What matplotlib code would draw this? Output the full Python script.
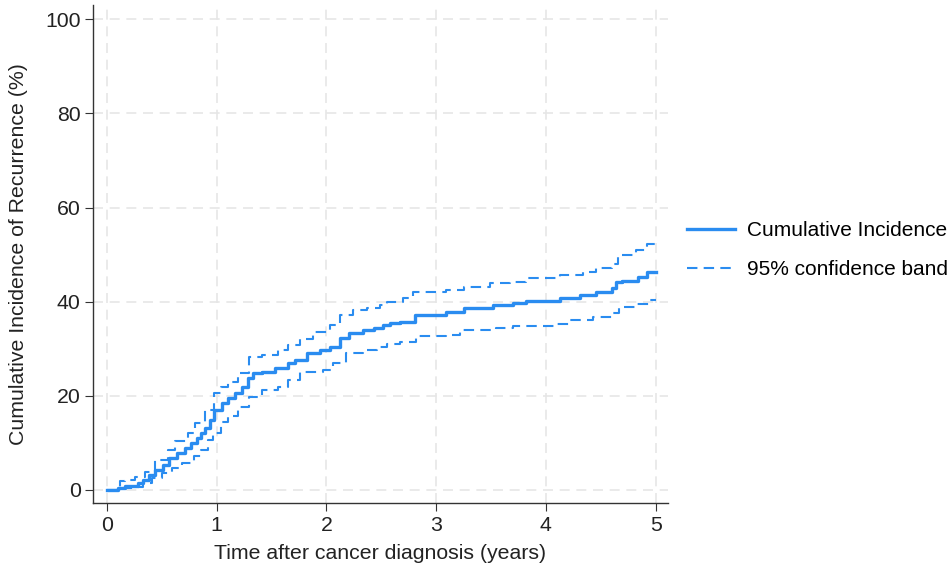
import matplotlib.pyplot as plt

plt.rcParams['font.family'] = ['Liberation Sans', 'DejaVu Sans']

# Cumulative incidence estimate (steps)
ci_t = [0, 0.10, 0.16, 0.28, 0.33, 0.38, 0.44, 0.51, 0.57, 0.635, 0.71, 0.77, 0.82, 0.86,
        0.89, 0.94, 0.98, 1.045, 1.105, 1.166, 1.227, 1.287, 1.33, 1.41, 1.53, 1.65, 1.71,
        1.82, 1.94, 2.03, 2.12, 2.21, 2.33, 2.43, 2.52, 2.58, 2.67, 2.81, 3.09, 3.25, 3.52,
        3.70, 3.82, 4.13, 4.31, 4.46, 4.60, 4.64, 4.69, 4.84, 4.92, 5.0]
ci_y = [0, 0.4, 0.85, 1.4, 2.1, 3.2, 4.2, 5.3, 6.7, 7.8, 8.9, 9.9, 11.0, 12.0,
        13.1, 14.9, 17.0, 18.4, 19.5, 20.5, 21.9, 23.7, 24.8, 25.1, 25.8, 26.9, 27.6,
        29.0, 29.7, 30.4, 32.2, 33.3, 34.0, 34.3, 35.0, 35.5, 35.7, 37.2, 37.9, 38.6, 39.3,
        39.8, 40.2, 40.7, 41.4, 42.1, 42.8, 44.2, 44.4, 45.3, 46.4, 46.4]

# 95% confidence band
up_t = [0, 0.12, 0.16, 0.255, 0.35, 0.44, 0.56, 0.62, 0.74, 0.80, 0.89, 0.98, 1.04, 1.105,
        1.195, 1.29, 1.41, 1.56, 1.65, 1.76, 1.88, 2.03, 2.12, 2.24, 2.37, 2.49, 2.55, 2.70,
        2.79, 3.09, 3.25, 3.49, 3.67, 3.82, 4.13, 4.34, 4.46, 4.60, 4.66, 4.82, 4.92, 5.0]
up_y = [0, 1.8, 2.1, 2.8, 3.9, 6.4, 8.5, 10.3, 12.0, 14.2, 17.0, 20.5, 21.9, 23.0,
        24.8, 28.3, 28.7, 29.7, 30.8, 32.0, 33.6, 35.0, 37.2, 38.2, 38.6, 39.3, 40.0, 40.7,
        42.1, 42.5, 43.2, 43.9, 44.2, 45.0, 45.6, 46.4, 47.1, 48.1, 50.0, 51.0, 52.2, 52.2]
lo_t = [0, 0.134, 0.285, 0.33, 0.41, 0.50, 0.59, 0.68, 0.79, 0.86, 0.92, 0.97, 1.04, 1.105,
        1.195, 1.29, 1.41, 1.56, 1.65, 1.76, 1.97, 2.06, 2.18, 2.33, 2.46, 2.55, 2.67, 2.82,
        3.09, 3.22, 3.55, 3.70, 4.10, 4.22, 4.43, 4.60, 4.67, 4.82, 4.95, 5.0]
lo_y = [0, 0.36, 0.57, 1.55, 2.5, 3.5, 4.6, 5.7, 7.1, 8.5, 10.6, 12.0, 14.5, 15.6,
        17.7, 19.8, 21.2, 21.9, 23.4, 25.1, 25.5, 26.9, 29.0, 29.7, 30.4, 31.1, 31.5, 32.7,
        32.9, 34.0, 34.3, 34.8, 35.2, 36.1, 36.7, 37.5, 38.8, 39.6, 40.3, 40.3]

color = '#2a8cf0'
fs = 15.3

fig = plt.figure(figsize=(9.53, 5.71), dpi=100)
ax = fig.add_axes([0.0976, 0.119, 0.603, 0.872])

ax.plot(ci_t, ci_y, drawstyle='steps-post', color=color, lw=2.4, label='Cumulative Incidence')
ax.plot(up_t, up_y, drawstyle='steps-post', color=color, lw=1.5, ls=(0, (5, 3)),
        label='95% confidence band')
ax.plot(lo_t, lo_y, drawstyle='steps-post', color=color, lw=1.5, ls=(0, (5, 3)))

ax.set_xlim(-0.127, 5.11)
ax.set_ylim(-2.8, 103)
ax.set_xticks([0, 1, 2, 3, 4, 5])
ax.set_yticks([0, 20, 40, 60, 80, 100])
ax.grid(True, color='#e6e6e6', ls=(0, (6, 4)), lw=1.2)
ax.set_axisbelow(True)

for s in ['top', 'right']:
    ax.spines[s].set_visible(False)
for s in ['left', 'bottom']:
    ax.spines[s].set_color('#333333')
    ax.spines[s].set_linewidth(1.0)
ax.tick_params(labelsize=fs, length=6, pad=3, color='#333333', labelcolor='#222222')

ax.set_xlabel('Time after cancer diagnosis (years)', fontsize=fs, color='#222222', labelpad=7)
ax.set_ylabel('Cumulative Incidence of Recurrence (%)', fontsize=fs, color='#222222', labelpad=12)

ax.legend(loc='center left', bbox_to_anchor=(1.0186, 0.508), borderaxespad=0, frameon=False,
          fontsize=15, handlelength=2.3, handletextpad=0.6, labelspacing=0.95)

plt.savefig('out.png')
